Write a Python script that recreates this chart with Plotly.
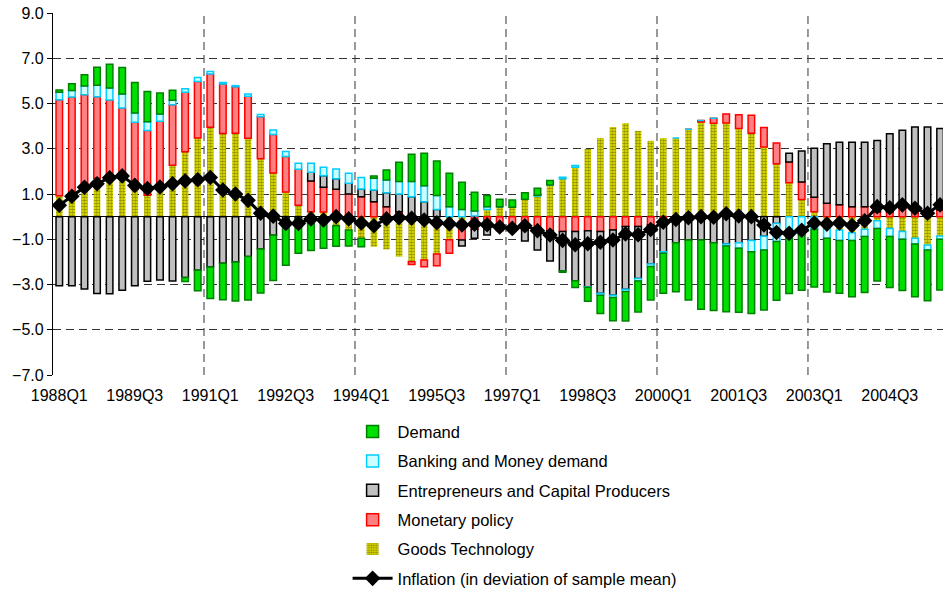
import plotly.graph_objects as go

quarters = [f"{1988 + i // 4}Q{i % 4 + 1}" for i in range(71)]

goods_technology = [
    0.92, 1.07, 1.30, 1.70, 1.85, 1.95, 1.20, 0.95, 1.43, 2.27,
    2.87, 3.48, 3.95, 3.67, 3.68, 3.46, 2.56, 1.93, 1.09, 0.50,
    0.22, 0.20, -0.40, -0.59, -0.96, -1.33, -1.45, -1.77, -1.99, -1.92,
    -1.65, -1.02, -0.22, 0.03, 0.32, 0.44, 0.41, 0.77, 0.91, 1.40,
    1.67, 2.18, 2.99, 3.48, 3.96, 4.13, 3.79, 3.35, 3.47, 3.47,
    3.86, 4.18, 4.13, 4.14, 3.90, 3.69, 3.08, 2.34, 1.50, 0.76,
    0.22, -0.44, -0.59, -0.71, -0.56, -0.18, -0.52, -0.66, -0.96, -1.25,
    -0.86,
]
monetary_policy = [
    4.25, 4.22, 4.09, 3.60, 3.30, 2.85, 2.97, 2.86, 2.79, 2.68,
    2.63, 2.49, 2.35, 2.19, 2.06, 1.86, 1.85, 1.70, 1.57, 1.59,
    1.36, 1.10, 1.21, 1.00, 0.88, 0.66, 0.44, 0.22, -0.13, -0.30,
    -0.52, -0.60, -0.81, -0.56, -0.52, -0.62, -0.44, -0.59, -0.59, -0.62,
    -0.66, -0.66, -0.62, -0.66, -0.59, -0.44, -0.44, -0.37, -0.15, -0.03,
    0.00, 0.07, 0.22, 0.40, 0.60, 0.79, 0.86, 0.91, 0.91, 0.77,
    0.64, 0.59, 0.52, 0.44, 0.44, 0.22, 0.22, 0.37, 0.37, 0.30,
    0.30,
]
entrepreneurs = [
    -3.05, -3.06, -3.20, -3.40, -3.41, -3.25, -3.05, -2.86, -2.80, -2.84,
    -2.69, -2.37, -2.23, -2.06, -2.00, -1.76, -1.43, -0.82, -0.40, -0.10,
    0.38, 0.51, 0.46, 0.47, 0.34, 0.52, 0.62, 0.78, 0.88, 0.66,
    0.32, 0.00, -0.27, -0.40, -0.29, 0.00, 0.00, -0.49, -0.88, -1.34,
    -1.73, -2.17, -2.48, -2.73, -2.88, -2.77, -2.30, -1.72, -1.40, -1.12,
    -1.03, -1.03, -1.15, -1.21, -1.15, -1.06, -0.87, -0.30, 0.39, 1.37,
    2.16, 2.63, 2.77, 2.85, 2.85, 3.14, 3.44, 3.45, 3.59, 3.66,
    3.60,
]
banking_money = [
    0.33, 0.29, 0.38, 0.51, 0.53, 0.62, 0.41, 0.38, 0.32, 0.19,
    0.15, 0.18, 0.11, 0.07, 0.05, 0.10, 0.10, 0.20, 0.22, 0.27,
    0.40, 0.37, 0.44, 0.45, 0.51, 0.52, 0.56, 0.55, 0.67, 0.70,
    0.61, 0.44, 0.32, 0.22, 0.12, 0.00, 0.00, 0.00, 0.04, 0.00,
    0.07, 0.08, -0.02, -0.08, -0.10, -0.10, -0.10, -0.11, -0.07, 0.00,
    0.00, 0.00, 0.00, -0.09, -0.25, -0.49, -0.60, -0.80, -0.96, -0.80,
    -0.56, -0.52, -0.47, -0.35, -0.32, -0.34, -0.36, -0.34, -0.25, -0.22,
    -0.14,
]
demand = [
    0.10, 0.29, 0.50, 0.79, 1.05, 1.17, 1.35, 1.34, 0.92, 0.45,
    -0.18, -0.91, -1.39, -1.61, -1.73, -1.93, -1.95, -2.00, -1.75, -1.52,
    -1.50, -1.40, -0.91, -0.71, -0.37, 0.10, 0.44, 0.85, 1.21, 1.44,
    1.53, 1.48, 1.20, 0.83, 0.49, 0.33, 0.32, 0.28, 0.30, 0.20,
    -0.07, -0.30, -0.62, -0.81, -1.03, -1.30, -1.37, -1.48, -1.77, -2.17,
    -2.66, -3.06, -3.00, -2.90, -2.83, -2.73, -2.66, -2.60, -2.44, -2.45,
    -2.55, -2.37, -2.33, -2.48, -2.47, -2.33, -2.25, -2.27, -2.33, -2.25,
    -2.24,
]
inflation = [
    0.50, 0.90, 1.30, 1.45, 1.72, 1.80, 1.38, 1.24, 1.31, 1.45,
    1.58, 1.63, 1.73, 1.18, 1.00, 0.72, 0.15, 0.02, -0.30, -0.30,
    -0.10, -0.15, 0.00, -0.10, -0.28, -0.40, -0.10, -0.05, -0.07, -0.15,
    -0.27, -0.32, -0.37, -0.33, -0.36, -0.46, -0.52, -0.40, -0.62, -0.81,
    -1.05, -1.24, -1.20, -1.13, -1.03, -0.77, -0.80, -0.57, -0.25, -0.13,
    -0.05, 0.00, -0.03, 0.13, 0.03, 0.00, -0.37, -0.70, -0.74, -0.60,
    -0.28, -0.33, -0.28, -0.39, -0.18, 0.44, 0.39, 0.52, 0.37, 0.15,
    0.52,
]

tick_labels = quarters[::6]

FONT = "Liberation Sans, Arial, sans-serif"

fig = go.Figure()

fig.add_trace(go.Bar(
    x=quarters, y=goods_technology, name="Goods Technology",
    legendrank=5, legendgroup="g5",
    marker=dict(color="#b4b400", line=dict(width=0),
                pattern=dict(shape=".", fgcolor="#3a3a00", bgcolor="#f0f000",
                             size=3, solidity=0.65)),
))
fig.add_trace(go.Bar(
    x=quarters, y=monetary_policy, name="Monetary policy",
    legendrank=4, legendgroup="g4",
    marker=dict(color="#ff8080", line=dict(color="#ff0000", width=1.5)),
))
fig.add_trace(go.Bar(
    x=quarters, y=entrepreneurs, name="Entrepreneurs and Capital Producers",
    legendrank=3, legendgroup="g3",
    marker=dict(color="#c0c0c0", line=dict(color="#000000", width=1.5)),
))
fig.add_trace(go.Bar(
    x=quarters, y=banking_money, name="Banking and Money demand",
    legendrank=2, legendgroup="g2",
    marker=dict(color="#ccffff", line=dict(color="#00ccff", width=1.5)),
))
fig.add_trace(go.Bar(
    x=quarters, y=demand, name="Demand",
    legendrank=1, legendgroup="g1",
    marker=dict(color="#00e000", line=dict(color="#008000", width=1.5)),
))
fig.add_trace(go.Scatter(
    x=quarters, y=inflation, name="Inflation (in deviation of sample mean)",
    legendrank=6, legendgroup="g6",
    mode="lines+markers",
    line=dict(color="#000000", width=3),
    marker=dict(symbol="diamond", size=12, color="#000000"),
))

# vertical dashed gridlines every 12 quarters (category boundaries)
for k in range(12, len(quarters), 12):
    fig.add_shape(type="line", xref="x", yref="y",
                  x0=k - 0.5, x1=k - 0.5, y0=-7, y1=9,
                  line=dict(color="#333333", width=1, dash="8px,5px"),
                  layer="below")

fig.update_layout(
    width=943, height=592,
    margin=dict(l=53, r=0, t=13, b=217, autoexpand=False),
    paper_bgcolor="white", plot_bgcolor="white",
    barmode="relative", bargap=0.48,
    hovermode=False,
    font=dict(family=FONT, size=16, color="#000000"),
    showlegend=True,
    legend=dict(x=0.331, y=-0.6115, xanchor="left", yanchor="bottom",
                orientation="v", tracegroupgap=4.9,
                font=dict(family=FONT, size=16.5, color="#000000"),
                itemwidth=40, bgcolor="rgba(0,0,0,0)"),
)

fig.update_xaxes(
    type="category", range=[-0.5, 70.23],
    tickmode="array", tickvals=tick_labels, ticktext=tick_labels,
    ticks="", showgrid=False, showline=False, zeroline=False,
    tickfont=dict(family=FONT, size=16), ticklabelstandoff=9,
    automargin=False,
)
fig.update_yaxes(
    range=[-7, 9], tick0=-7, dtick=2, tickformat=".1f",
    showgrid=True, gridcolor="#333333", griddash="8px,5px", gridwidth=1,
    zeroline=True, zerolinecolor="#000000", zerolinewidth=1.3,
    showline=True, linecolor="#000000", linewidth=1.3,
    ticks="outside", ticklen=5, tickcolor="#000000",
    tickfont=dict(family=FONT, size=16), ticklabelstandoff=0,
    ticklabeloverflow="allow",
    automargin=False,
)

# remove the browser's default 8px page margin so the figure fills the window
fig.write_html("out.html",
               config={"displayModeBar": False},
               post_script="document.body.style.margin='0';document.body.style.overflow='hidden';")
